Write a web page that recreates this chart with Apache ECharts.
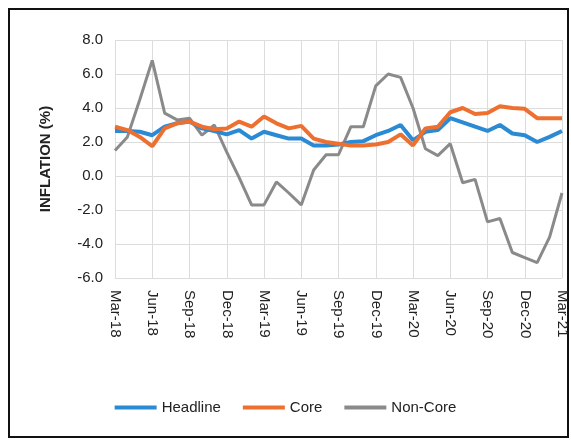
<!DOCTYPE html>
<html><head><meta charset="utf-8">
<script src="https://cdn.jsdelivr.net/npm/echarts@6/dist/echarts.min.js"></script>
<style>html,body{margin:0;padding:0;background:#fff;}#c{width:571px;height:440px;}</style>
</head><body><div id="c"></div>
<script>
const months = ['Mar-18','Apr-18','May-18','Jun-18','Jul-18','Aug-18','Sep-18','Oct-18','Nov-18','Dec-18','Jan-19','Feb-19',
'Mar-19','Apr-19','May-19','Jun-19','Jul-19','Aug-19','Sep-19','Oct-19','Nov-19','Dec-19','Jan-20','Feb-20',
'Mar-20','Apr-20','May-20','Jun-20','Jul-20','Aug-20','Sep-20','Oct-20','Nov-20','Dec-20','Jan-21','Feb-21','Mar-21'];
const headline = [2.65,2.65,2.6,2.4,2.9,3.1,3.2,2.8,2.65,2.45,2.7,2.2,2.6,2.4,2.2,2.2,1.8,1.8,1.85,2.0,2.05,2.4,2.65,3.0,
2.1,2.6,2.7,3.4,3.15,2.9,2.65,3.0,2.5,2.4,2.0,2.3,2.65];
const core = [2.9,2.7,2.3,1.75,2.8,3.1,3.2,2.9,2.75,2.8,3.2,2.9,3.5,3.1,2.8,2.95,2.2,2.0,1.9,1.8,1.8,1.85,2.0,2.45,
1.8,2.8,2.9,3.75,4.0,3.65,3.7,4.1,4.0,3.95,3.4,3.4,3.4];
const nonCore = [1.5,2.3,4.5,6.8,3.7,3.3,3.4,2.4,3.0,1.4,-0.1,-1.7,-1.7,-0.35,-1.0,-1.7,0.35,1.25,1.25,2.9,2.9,5.3,6.0,5.8,
4.0,1.6,1.2,1.9,-0.4,-0.2,-2.7,-2.5,-4.5,-4.8,-5.1,-3.6,-1.0];
const seriesNames = ['Headline','Core','Non-Core'];
const yTicks = {min:-6, max:8, interval:2};

const font = 'Liberation Sans Narrow, Arial Narrow, Liberation Sans, sans-serif';
const chart = echarts.init(document.getElementById('c'));
chart.setOption({
  animation:false,
  backgroundColor:'#fff',
  graphic:[{type:'rect', shape:{x:9,y:9,width:559,height:428}, style:{fill:'none', stroke:'#111', lineWidth:2}}],
  grid:{left:115, right:9, top:40, bottom:162},
  legend:{
    data:seriesNames, bottom:20, left:'center', itemWidth:42, itemHeight:4, itemGap:22, icon:'rect',
    textStyle:{fontFamily:font, fontSize:15, color:'#222'}
  },
  xAxis:{
    type:'category', data:months, boundaryGap:false,
    axisLine:{show:false}, axisTick:{show:false},
    axisLabel:{interval:2, rotate:-90, fontFamily:font, fontSize:15, color:'#222', margin:12},
    splitLine:{show:true, interval:2, lineStyle:{color:'#dcdcdc', width:1}}
  },
  yAxis:{
    type:'value', min:yTicks.min, max:yTicks.max, interval:yTicks.interval,
    name:'INFLATION (%)', nameLocation:'middle', nameGap:62, nameRotate:90,
    nameTextStyle:{fontFamily:'Liberation Sans, Arial, sans-serif', fontSize:15, fontWeight:'bold', color:'#222'},
    axisLine:{show:false}, axisTick:{show:false},
    axisLabel:{formatter:v=>v.toFixed(1), fontFamily:font, fontSize:15, color:'#222', margin:12},
    splitLine:{lineStyle:{color:'#dcdcdc', width:1}}
  },
  series:[
    {name:seriesNames[0], type:'line', data:headline, symbol:'none', lineStyle:{color:'#2a8ad4', width:4}, itemStyle:{color:'#2a8ad4'}, z:3},
    {name:seriesNames[1], type:'line', data:core, symbol:'none', lineStyle:{color:'#ee7030', width:4}, itemStyle:{color:'#ee7030'}, z:4},
    {name:seriesNames[2], type:'line', data:nonCore, symbol:'none', lineStyle:{color:'#8a8a8a', width:3}, itemStyle:{color:'#8a8a8a'}, z:2}
  ]
});
</script></body></html>
